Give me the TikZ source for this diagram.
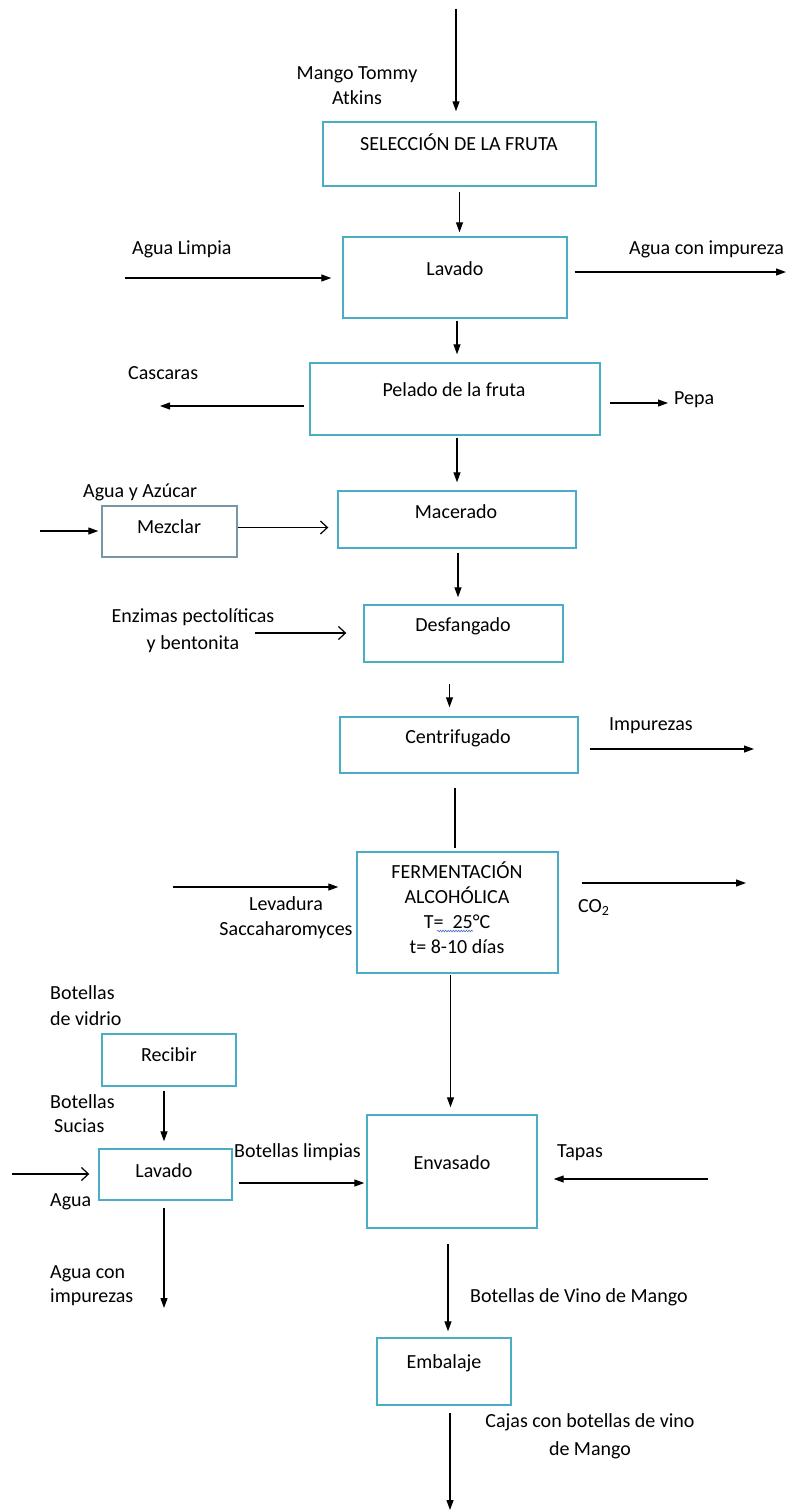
\documentclass[tikz,border=0pt]{standalone}
\usepackage{fontspec}
\setmainfont{Carlito}
\usetikzlibrary{arrows.meta,calc,decorations.pathmorphing}
\definecolor{boxc}{RGB}{75,172,198}
\definecolor{mezc}{RGB}{120,150,165}
\definecolor{wavyc}{RGB}{70,110,200}
\begin{document}
\begin{tikzpicture}[x=1pt,y=-1pt,
  box/.style={draw=boxc, line width=1.4pt, inner sep=0pt},
  lbl/.style={font=\fontsize{20}{25}\selectfont, inner sep=0pt},
  arr/.style={line width=1.2pt, -{Triangle[length=10pt,width=7pt]}},
  oarr/.style={line width=1.2pt, -{Straight Barb[length=7pt,width=13pt,line width=1.2pt]}},
  plain/.style={line width=1.2pt}]
\useasboundingbox[fill=white] (0,0) rectangle (788,1512);

% boxes
\node[box, minimum width=273pt, minimum height=64pt] (sel) at (459.5,154) {};
\node[box, minimum width=224pt, minimum height=81pt] (lav) at (455,277.5) {};
\node[box, minimum width=290pt, minimum height=72pt] (pel) at (455,399) {};
\node[box, minimum width=238pt, minimum height=57pt] (mac) at (457,519.5) {};
\node[box, draw=mezc, minimum width=135pt, minimum height=51pt] (mez) at (169.5,531.5) {};
\node[box, minimum width=199pt, minimum height=57pt] (des) at (463.5,633.5) {};
\node[box, minimum width=238pt, minimum height=56pt] (cen) at (459,745) {};
\node[box, minimum width=201pt, minimum height=121pt] (fer) at (457.5,912.5) {};
\node[box, minimum width=134pt, minimum height=52pt] (rec) at (169,1060) {};
\node[box, minimum width=133pt, minimum height=51pt] (lav2) at (165.5,1174.5) {};
\node[box, minimum width=170pt, minimum height=113pt] (env) at (452,1171.5) {};
\node[box, minimum width=134pt, minimum height=67pt] (emb) at (444,1371.5) {};

% box texts
\node[lbl, anchor=base] (selt) at (459,150.5) {SELECCIÓN DE LA FRUTA};
\node[lbl, anchor=base] (lavt) at (455,275.5) {Lavado};
\node[lbl, anchor=base] (pelt) at (454,396.5) {Pelado de la fruta};
\node[lbl, anchor=base] (mact) at (456,518.5) {Macerado};
\node[lbl, anchor=base] (mezt) at (169,533.5) {Mezclar};
\node[lbl, anchor=base] (dest) at (463,631) {Desfangado};
\node[lbl, anchor=base] (cent) at (458,743) {Centrifugado};
\node[lbl, anchor=base, align=center] (fert) at (457,953.5) {FERMENTACIÓN\\ALCOHÓLICA\\T=\ \ 25°C\\t= 8-10 días};
\node[lbl, anchor=base] (rect) at (169,1061) {Recibir};
\node[lbl, anchor=base] (lav2t) at (164,1177) {Lavado};
\node[lbl, anchor=base] (envt) at (452,1169) {Envasado};
\node[lbl, anchor=base] (embt) at (444,1368) {Embalaje};
\draw[wavyc, line width=0.6pt, decorate, decoration={snake, amplitude=0.8pt, segment length=2.6pt}] (437,931) -- (473,931);

% labels
\node[lbl, anchor=base, align=center] (l1) at (357,104) {Mango Tommy\\Atkins};
\node[lbl, anchor=base west] (l2) at (132,254) {Agua Limpia};
\node[lbl, anchor=base west] (l3) at (629,254) {Agua con impureza};
\node[lbl, anchor=base west] (l4) at (128,379) {Cascaras};
\node[lbl, anchor=base west] (l5) at (674,404) {Pepa};
\node[lbl, anchor=base west] (l6) at (83,497) {Agua y Azúcar};
\node[lbl, anchor=base, align=center, font=\fontsize{20}{27}\selectfont] (l7) at (193,649) {Enzimas pectolíticas\\y bentonita};
\node[lbl, anchor=base west] (l8) at (609,730) {Impurezas};
\node[lbl, anchor=base, align=center] (l9) at (286,935) {Levadura\\Saccaharomyces};
\node[lbl, anchor=base west] (l10) at (578,912) {CO\textsubscript{2}};
\node[lbl, anchor=base west, align=left, font=\fontsize{20}{26}\selectfont] (l11) at (50,1025) {Botellas\\de vidrio};
\node[lbl, anchor=base west, align=left, font=\fontsize{20}{24}\selectfont] (l12) at (50,1132) {Botellas\\\hspace*{4pt}Sucias};
\node[lbl, anchor=base west] (l13) at (50,1206) {Agua};
\node[lbl, anchor=base west, align=left, font=\fontsize{20}{24}\selectfont] (l14) at (50,1302) {Agua con\\impurezas};
\node[lbl, anchor=base west] (l15) at (234,1157) {Botellas limpias};
\node[lbl, anchor=base west] (l16) at (557,1157) {Tapas};
\node[lbl, anchor=base west] (l17) at (470,1302) {Botellas de Vino de Mango};
\node[lbl, anchor=base, align=center, font=\fontsize{20}{28}\selectfont] (l18) at (590,1455) {Cajas con botellas de vino\\de Mango};

% free ends
\coordinate (in1) at (456,9);
\coordinate (in2) at (125,278);
\coordinate (out1) at (786,272);
\coordinate (out2) at (160,406);
\coordinate (out3) at (668,403);
\coordinate (in3) at (40,531);
\coordinate (in4) at (255,633);
\coordinate (out4) at (754,749);
\coordinate (in5) at (173,887);
\coordinate (out5) at (746,883);
\coordinate (in6) at (12,1174);
\coordinate (out6) at (164,1308);
\coordinate (in7) at (708,1179);
\coordinate (out7) at (450,1510);

% connectors
\draw[arr, shorten >=10pt] (in1) -- (in1 |- sel.north);
\draw[arr, shorten <=5pt, shorten >=4pt] (sel.south) -- (sel.south |- lav.north);
\draw[arr, shorten >=11pt] (in2) -- (in2 -| lav.west);
\draw[arr, shorten <=7pt] (out1 -| lav.east) -- (out1);
\draw[arr, shorten <=2pt, shorten >=8pt] ($(lav.south)+(2,0)$) -- ($(lav.south |- pel.north)+(2,0)$);
\draw[arr, shorten <=5pt] (out2 -| pel.west) -- (out2);
\draw[arr, shorten <=9pt] (out3 -| pel.east) -- (out3);
\draw[arr, shorten <=2pt, shorten >=8pt] ($(pel.south)+(2,0)$) -- ($(pel.south |- mac.north)+(2,0)$);
\draw[arr, shorten >=3pt] (in3) -- (in3 -| mez.west);
\draw[oarr, shorten >=9pt] ($(mez.east)+(0,-4)$) -- ($(mez.east -| mac.west)+(0,-4)$);
\draw[arr, shorten <=4pt, shorten >=7pt] ($(mac.south)+(1,0)$) -- ($(mac.south |- des.north)+(1,0)$);
\draw[oarr, shorten >=17pt] (in4) -- (in4 -| des.west);
\draw[arr, shorten <=21pt, shorten >=9pt] ($(des.south)+(-14,0)$) -- ($(des.south |- cen.north)+(-14,0)$);
\draw[arr, shorten <=11pt] (out4 -| cen.east) -- (out4);
\draw[plain, shorten <=14pt, shorten >=3pt] ($(cen.south)+(-4,0)$) -- ($(cen.south |- fer.north)+(-4,0)$);
\draw[arr, shorten >=18pt] (in5) -- (in5 -| fer.west);
\draw[arr, shorten <=23pt] (out5 -| fer.east) -- (out5);
\draw[arr, shorten <=1pt, shorten >=7pt] ($(fer.south)+(-7,0)$) -- ($(fer.south |- env.north)+(-7,0)$);
\draw[arr, shorten <=4pt, shorten >=7pt] ($(rec.south)+(-5,0)$) -- ($(rec.south |- lav2.north)+(-5,0)$);
\draw[oarr, shorten >=9pt] (in6) -- (in6 -| lav2.west);
\draw[arr, shorten <=7pt] (out6 |- lav2.south) -- (out6);
\draw[arr, shorten <=6pt, shorten >=2pt] ($(lav2.east)+(0,8.5)$) -- ($(lav2.east -| env.west)+(0,8.5)$);
\draw[arr, shorten >=16pt] (in7) -- (in7 -| env.east);
\draw[arr, shorten <=15pt, shorten >=6pt] ($(env.south)+(-4,0)$) -- ($(env.south |- emb.north)+(-4,0)$);
\draw[arr, shorten <=7pt] (out7 |- emb.south) -- (out7);
\end{tikzpicture}
\end{document}
